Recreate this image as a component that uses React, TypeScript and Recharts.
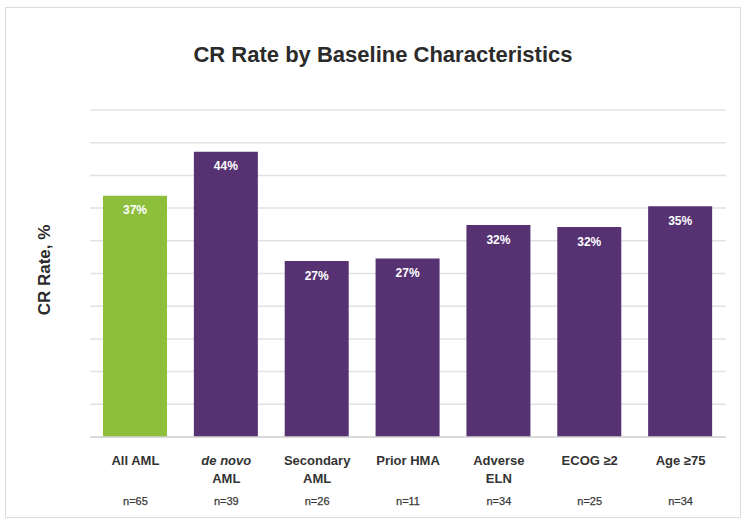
import { Bar, BarChart, CartesianGrid, Cell, LabelList, XAxis, YAxis } from "recharts"

const groups = ["All AML", "de novo AML", "Secondary AML", "Prior HMA", "Adverse ELN", "ECOG ≥2", "Age ≥75"]
const firstLines = ["All AML", "de novo", "Secondary", "Prior HMA", "Adverse", "ECOG ≥2", "Age ≥75"]
const secondLines = ["", "AML", "AML", "", "ELN", "", ""]
const counts = ["n=65", "n=39", "n=26", "n=11", "n=34", "n=25", "n=34"]
const crRates = [36.9, 43.6, 26.9, 27.3, 32.4, 32.1, 35.3]
const rateLabels = ["37%", "44%", "27%", "27%", "32%", "32%", "35%"]
const yTicks = [0, 5, 10, 15, 20, 25, 30, 35, 40, 45, 50]

const data = groups.map((g, i) => ({
  group: g,
  rate: crRates[i],
  label: rateLabels[i],
}))

const GREEN = "#8dbf3d"
const PURPLE = "#563273"
const FONT = "'Liberation Sans', Arial, sans-serif"

function GroupTick(props: any) {
  const { x, y, payload } = props
  const i = groups.indexOf(payload.value)
  const italic = i === 1
  return (
    <g transform={`translate(${x},${y})`} fontFamily={FONT}>
      <text x={0} y={20} textAnchor="middle" fontSize={13} fontWeight="bold" fill="#333" fontStyle={italic ? "italic" : "normal"}>
        {firstLines[i]}
      </text>
      {secondLines[i] && (
        <text x={0} y={38} textAnchor="middle" fontSize={13} fontWeight="bold" fill="#333">
          {secondLines[i]}
        </text>
      )}
      <text x={0} y={60} textAnchor="middle" fontSize={11} fill="#3a3a3a" stroke="#3a3a3a" strokeWidth={0.25}>
        {counts[i]}
      </text>
    </g>
  )
}

const EmptyTick = () => <g />

export default function App() {
  return (
    <div style={{ position: "absolute", left: 0, top: 0, width: 746, height: 526, background: "#fff", fontFamily: FONT }}>
      <div
        style={{
          position: "absolute",
          left: 5,
          top: 7,
          width: 734,
          height: 509,
          border: "1px solid #dcdcdc",
        }}
      />
      <div
        style={{
          position: "absolute",
          left: 0,
          top: 42,
          width: 766,
          textAlign: "center",
          fontSize: 22,
          fontWeight: "bold",
          color: "#2b2b2b",
        }}
      >
        CR Rate by Baseline Characteristics
      </div>
      <div
        style={{
          position: "absolute",
          left: 45,
          top: 270,
          transform: "translate(-50%, -50%) rotate(-90deg)",
          fontSize: 17,
          fontWeight: "bold",
          color: "#2b2b2b",
          whiteSpace: "nowrap",
        }}
      >
        CR Rate, %
      </div>
      <div style={{ position: "absolute", left: 0, top: 0 }}>
        <BarChart width={746} height={526} data={data} margin={{ top: 110, right: 20, bottom: 9, left: 90 }}>
          <CartesianGrid vertical={false} stroke="#e2e2e2" strokeWidth={1.5} />
          <XAxis
            dataKey="group"
            height={80}
            interval={0}
            tickLine={false}
            axisLine={{ stroke: "#d4d4d4", strokeWidth: 1.5 }}
            tick={<GroupTick />}
          />
          <YAxis width={0} domain={[0, 50]} ticks={yTicks} tick={EmptyTick} axisLine={false} tickLine={false} />
          <Bar dataKey="rate" barSize={64} isAnimationActive={false}>
            {data.map((d, i) => (
              <Cell key={d.group} fill={i === 0 ? GREEN : PURPLE} />
            ))}
            <LabelList
              dataKey="label"
              position="insideTop"
              offset={10}
              fill="#fff"
              fontSize={12}
              fontWeight="bold"
              fontFamily={FONT}
            />
          </Bar>
        </BarChart>
      </div>
    </div>
  )
}
